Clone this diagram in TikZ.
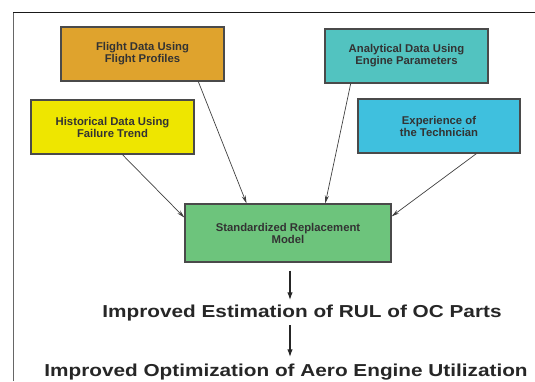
\documentclass[tikz,border=0pt]{standalone}
\usepackage{fontspec}
\setmainfont{Liberation Sans}
\newfontfamily\widefont[FakeStretch=1.2]{Liberation Sans}
\usepackage{tikz}
\usetikzlibrary{arrows.meta,calc,positioning}

\definecolor{flightorange}{HTML}{DFA32D}
\definecolor{analyticteal}{HTML}{52C3C0}
\definecolor{histyellow}{HTML}{EEE600}
\definecolor{expercyan}{HTML}{3FC0DE}
\definecolor{modelgreen}{HTML}{6DC47C}
\definecolor{edgegray}{HTML}{4A4A4A}

\begin{document}
\begin{tikzpicture}[x=1pt, y=-1pt]

    % Style for nodes
    \tikzset{
        srcbox/.style={draw=edgegray, line width=1.1pt, minimum width=163pt, minimum height=54pt, inner sep=2pt, align=center, font=\fontsize{11.3}{12}\selectfont\bfseries, text=black!80},
        resulttext/.style={anchor=base, inner sep=0pt, font=\widefont\fontsize{17.3}{18}\selectfont\bfseries, text=black!85},
        feedarrow/.style={draw=black!75, line width=0.7pt, -{Stealth[length=8pt, width=4pt]}},
        flowarrow/.style={draw=black!85, line width=1.4pt, -{Latex[length=8pt, width=5.5pt]}}
    }

    \useasboundingbox (0,0) rectangle (535,381);

    % --- FRAME ---
    \draw[black!60, line width=1.3pt] (13.5,381) -- (13.5,12);
    \draw[black!90, line width=0.9pt] (13,12) -- (535,12);

    % --- DRAW NODES ---
    \node[srcbox, fill=flightorange] (flight) at (142.5,54) {Flight Data Using\\Flight Profiles};
    \node[srcbox, fill=analyticteal] (analytic) at (406.5,56) {Analytical Data Using\\Engine Parameters};
    \node[srcbox, fill=histyellow] (hist) at (112.5,127) {Historical Data Using\\Failure Trend};
    \node[srcbox, fill=expercyan, minimum width=162pt] (exper) at (439,126) {Experience of\\the Technician};
    \node[srcbox, fill=modelgreen, minimum width=206pt, minimum height=58pt] (model) at (288,233) {Standardized Replacement\\Model};

    \node[resulttext] (rul) at (302,317) {Improved Estimation of RUL of OC Parts};
    \node[resulttext] (util) at (286,376) {Improved Optimization of Aero Engine Utilization};

    % --- INPUT CONNECTIONS ---
    \draw[feedarrow] ($(hist.south west)!0.56!(hist.south east)$) -- ($(model.north west)!0.24!(model.south west)$);
    \draw[feedarrow] ($(flight.south west)!0.84!(flight.south east)$) -- ($(model.north west)!0.30!(model.north east)$);
    \draw[feedarrow] ($(analytic.south west)!0.16!(analytic.south east)$) -- ($(model.north west)!0.68!(model.north east)$);
    \draw[feedarrow] ($(exper.south west)!0.73!(exper.south east)$) -- ($(model.north east)!0.22!(model.south east)$);

    % --- OUTPUT CHAIN ---
    \coordinate (rultop) at ([shift={(2pt,-8pt)}]model.south);
    \coordinate (rulend) at (rultop |- rul.north);
    \draw[flowarrow] (rultop) -- ([yshift=4pt]rulend);

    \coordinate (utiltop) at ([yshift=-4.5pt]rultop |- rul.south);
    \coordinate (utilend) at (utiltop |- util.north);
    \draw[flowarrow] (utiltop) -- ([yshift=6pt]utilend);

\end{tikzpicture}
\end{document}
